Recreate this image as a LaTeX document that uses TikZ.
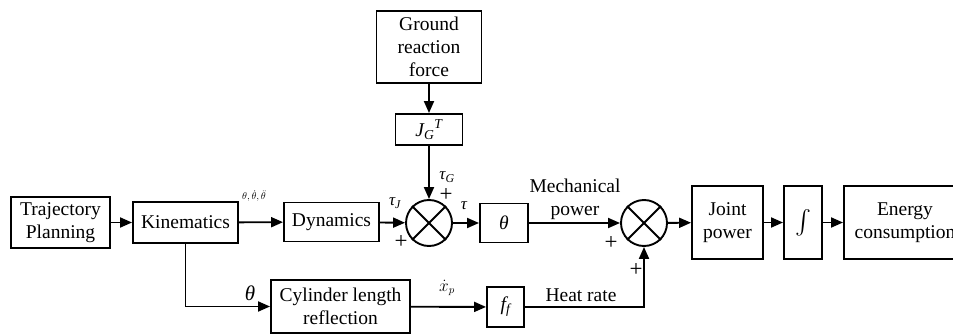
\documentclass[tikz,border=0pt]{standalone}
\usepackage{amsmath,amssymb}
\usepackage{fontspec}
\setmainfont{Liberation Serif}
\usepackage{tikz}
\usetikzlibrary{arrows.meta,positioning,calc}

\begin{document}
\begin{tikzpicture}[x=1pt,y=-1pt,
    every node/.style={font=\fontsize{19.5}{23}\selectfont},
    block/.style={draw, line width=1.9pt, align=center, inner sep=0pt},
    sum/.style={draw, circle, line width=1.9pt, minimum size=46pt, inner sep=0pt},
    arr/.style={line width=1.9pt, -{Triangle[length=12pt,width=10pt]}},
    lbl/.style={inner sep=0pt},
    plus/.style={inner sep=0pt, font=\fontsize{23}{25}\selectfont}]
    \useasboundingbox (0,0) rectangle (953,334);
    \clip (0,0) rectangle (953,334);

    % Blocks of the main chain
    \node[block, minimum width=99pt, minimum height=51pt] (traj) at (60.5,222.5) {Trajectory\\Planning};
    \node[block, minimum width=105pt, minimum height=41pt] (kin) at (185.5,222.5) {Kinematics};
    \node[block, minimum width=95pt, minimum height=39pt] (dyn) at (331.5,222) {Dynamics};
    \node[sum] (sumA) at (429,223) {};
    \node[block, minimum width=48pt, minimum height=39pt] (th) at (504,223) {\itshape θ};
    \node[sum] (sumB) at (644,223) {};
    \node[block, minimum width=71pt, minimum height=73pt] (jp) at (727.5,222.5) {Joint\\power};
    \node[block, minimum width=38pt, minimum height=73pt, font=\fontsize{24}{26}\selectfont] (intg) at (803,222.5) {$\int$};
    \node[block, minimum width=122pt, minimum height=73pt] (en) at (905,222.5) {Energy\\consumption};

    % Ground reaction branch
    \node[block, minimum width=105pt, minimum height=72pt] (grf) at (429,47) {Ground\\reaction\\force};
    \node[block, minimum width=67pt, minimum height=31pt] (jg) at (429,129.5) {\itshape J\textsubscript{G}\textsuperscript{T}};

    % Heat branch
    \node[block, minimum width=139pt, minimum height=53pt] (cyl) at (340.5,306.5) {Cylinder length\\reflection};
    \node[block, minimum width=37pt, minimum height=40pt] (ff) at (505.5,307) {\itshape f\textsubscript{f}};

    % Crosses in the summing points
    \foreach \s in {sumA,sumB} {
        \draw[line width=1.9pt] (\s.north west) -- (\s.south east);
        \draw[line width=1.9pt] (\s.north east) -- (\s.south west);
    }

    % Connectors
    \draw[arr] (traj) -- (kin);
    \draw[arr] (kin) -- (dyn);
    \draw[arr] (dyn) -- (sumA);
    \draw[arr] (grf) -- (jg);
    \draw[arr] (jg) -- (sumA);
    \draw[arr] (sumA) -- (th);
    \draw[arr] (th) -- (sumB);
    \draw[arr] (sumB) -- (jp);
    \draw[arr] (jp) -- (intg);
    \draw[arr] (intg) -- (en);
    \draw[arr] (kin.south) |- (cyl.west);
    \draw[arr] (cyl) -- (ff);
    \draw[arr] (ff.east) -| (sumB.south);

    % Signal labels
    \node[lbl, font=\fontsize{10}{12}\selectfont] (lq) at (254,196) {$\theta,\dot\theta,\ddot\theta$};
    \node[lbl, font=\fontsize{17}{19}\selectfont\itshape] (ltj) at (395,203) {τ\textsubscript{J}};
    \node[plus] (pa) at (401,242) {+};
    \node[lbl, font=\fontsize{17}{19}\selectfont\itshape] (ltg) at (447,177) {τ\textsubscript{G}};
    \node[plus] (pb) at (446,195) {+};
    \node[lbl, font=\fontsize{17}{19}\selectfont\itshape] (lt) at (464,206) {τ};
    \node[lbl, align=center] (lmp) at (575,199) {Mechanical\\power};
    \node[plus] (pc) at (611,243) {+};
    \node[lbl] (lhr) at (581,295) {Heat rate};
    \node[plus] (pd) at (636,270) {+};
    \node[lbl, font=\fontsize{21}{23}\selectfont\itshape] (lth) at (250,293) {θ};
    \node[lbl, font=\fontsize{16}{18}\selectfont] (lxp) at (447,288) {$\dot x_p$};
\end{tikzpicture}
\end{document}
